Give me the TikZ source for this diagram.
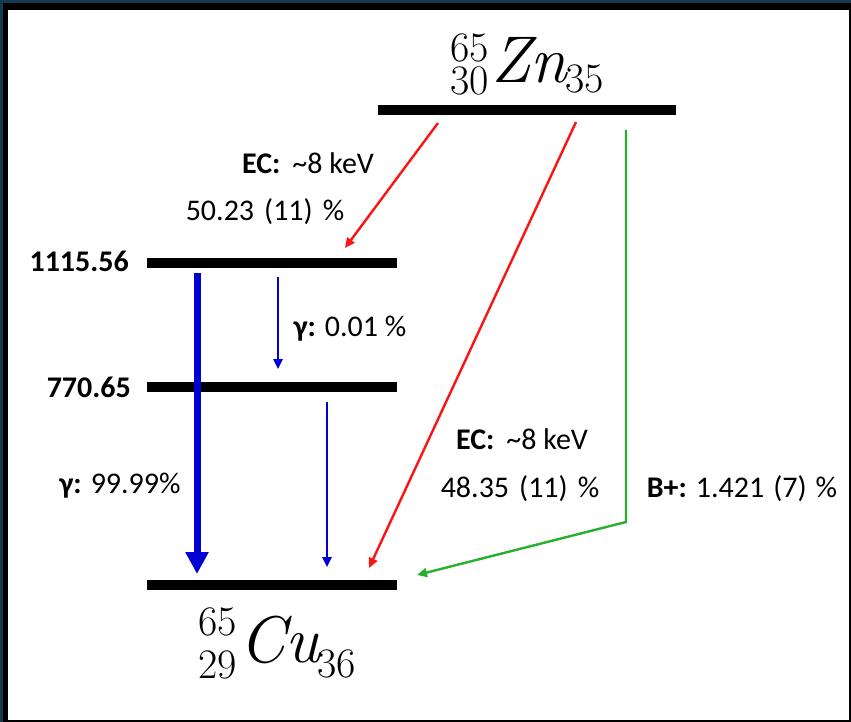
\documentclass[tikz,border=0pt]{standalone}
\usepackage{fontspec}
\setmainfont{Carlito}
\newfontfamily\nucfont{Latin Modern Roman}
\usetikzlibrary{arrows.meta}
\definecolor{framenavy}{RGB}{22,58,82}
\definecolor{arrred}{RGB}{250,20,20}
\definecolor{arrblue}{RGB}{0,0,210}
\definecolor{arrgreen}{RGB}{40,175,45}
\begin{document}
\begin{tikzpicture}[x=1pt,y=-1pt,
  level/.style={line width=10pt},
  lbl/.style={font=\fontsize{30}{34}\selectfont, inner sep=0pt, text=black},
  nucbig/.style={font=\nucfont\itshape\fontsize{66}{70}\selectfont, inner sep=0pt},
  nucsmall/.style={font=\nucfont\fontsize{42}{46}\selectfont, inner sep=0pt},
  thinarr/.style={line width=2.4pt,-{Triangle[length=10pt,width=9pt]}},
  thickarr/.style={line width=7pt,-{Triangle[length=22pt,width=22pt]}},
]
\useasboundingbox (0,0) rectangle (851,722);
\fill[framenavy] (0,0) rectangle (851,722);
\fill[black] (3,3) rectangle (851,722);
\fill[white] (8,10) rectangle (849,720);

% levels
\coordinate (znL) at (378,110); \coordinate (znR) at (676,110);
\coordinate (aL) at (147,263); \coordinate (aR) at (397,263);
\coordinate (bL) at (147,387); \coordinate (bR) at (397,387);
\coordinate (gL) at (147,585); \coordinate (gR) at (397,585);
\draw[level] (znL) -- (znR);
\draw[level] (aL) -- (aR);
\draw[level] (bL) -- (bR);
\draw[level] (gL) -- (gR);

% nuclide labels: Zn-65
\node[nucsmall, anchor=base east] (znA) at (489,62) {65};
\node[nucsmall, anchor=base east] (znZ) at (489,95) {30};
\node[nucbig, anchor=base west] (zn) at (491,83) {Zn};
\node[nucsmall, anchor=base west] (znN) at ([shift={(-2,10)}]zn.base east) {35};
% Cu-65
\node[nucsmall, anchor=base east] (cuA) at (237,635) {65};
\node[nucsmall, anchor=base east] (cuZ) at (237,678) {29};
\node[nucbig, anchor=base west] (cu) at (239,662) {Cu};
\node[nucsmall, anchor=base west] (cuN) at ([shift={(-3,15)}]cu.base east) {36};

% energy labels
\node[lbl, anchor=east] (ea) at (129,261) {\textbf{1115.56}};
\node[lbl, anchor=east] (eb) at (131,387) {\textbf{770.65}};

% arrow endpoints
\coordinate (r1s) at (438,123); \coordinate (r1e) at (345,248);
\coordinate (r2s) at (576,122); \coordinate (r2e) at (369,568);
\coordinate (g1s) at (626,130); \coordinate (g1c) at (626,522); \coordinate (g1e) at (417,575);
\coordinate (b1s) at (197,273); \coordinate (b1e) at (197,574);
\coordinate (b2s) at (278,277); \coordinate (b2e) at (278,369);
\coordinate (b3s) at (327,402); \coordinate (b3e) at (327,567);

\draw[thinarr, arrred] (r1s) -- (r1e);
\draw[thinarr, arrred] (r2s) -- (r2e);
\draw[thinarr, arrgreen, line join=miter] (g1s) -- (g1c) -- (g1e);
\draw[thickarr, arrblue] (b1s) -- (b1e);
\draw[thinarr, arrblue] (b2s) -- (b2e);
\draw[thinarr, arrblue] (b3s) -- (b3e);

% transition labels
\node[lbl] (ec1) at (308,163) {\textbf{EC:}\hspace{12pt}\textasciitilde8 keV};
\node[lbl] (p1) at (265,212) {50.23\hspace{10pt}(11)\hspace{10pt}\%};
\node[lbl] (g001) at (350,329) {\textbf{γ:} 0.01 \%};
\node[lbl] (g9999) at (120,486) {\textbf{γ:} 99.99\%};
\node[lbl] (ec2) at (522,439) {\textbf{EC:}\hspace{12pt}\textasciitilde8 keV};
\node[lbl] (p2) at (520,489) {48.35\hspace{10pt}(11)\hspace{10pt}\%};
\node[lbl] (bp) at (742,489) {\textbf{B+:} 1.421\hspace{9pt}(7)\hspace{9pt}\%};
\end{tikzpicture}
\end{document}
